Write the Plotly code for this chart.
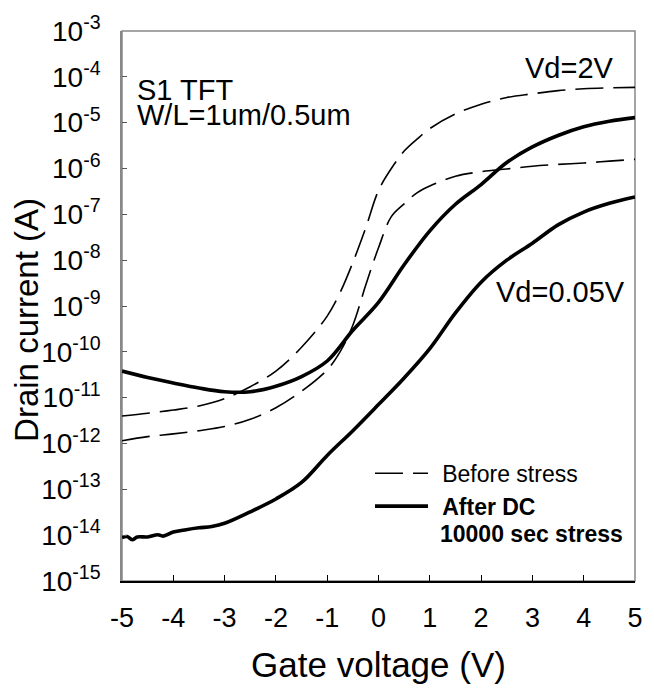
import plotly.graph_objects as go

# Gate voltage sweep (V)
vg = [-5, -4.5, -4, -3.5, -3, -2.5, -2, -1.5, -1, -0.75, -0.5, -0.25, 0,
      0.25, 0.5, 0.75, 1, 1.5, 2, 2.5, 3, 3.5, 4, 4.5, 5]

# log10 of drain current (A), before stress
before_vd2 = [-11.40, -11.34, -11.27, -11.18, -11.02, -10.76, -10.42, -9.90, -9.22,
              -8.71, -8.05, -7.30, -6.48, -6.00, -5.62, -5.36, -5.13, -4.81, -4.60,
              -4.45, -4.37, -4.30, -4.26, -4.24, -4.23]
before_vd005 = [-11.94, -11.85, -11.79, -11.72, -11.63, -11.47, -11.22, -10.86, -10.39,
                -10.00, -9.42, -8.55, -7.73, -7.05, -6.77, -6.53, -6.38, -6.17, -6.07,
                -6.01, -5.95, -5.91, -5.88, -5.84, -5.80]

# log10 of drain current (A), after DC stress
vg_after_vd2 = [-5, -4.5, -4, -3.5, -3, -2.5, -2, -1.5, -1, -0.5, 0,
                0.5, 1, 1.5, 2, 2.5, 3, 3.5, 4, 4.5, 5]
after_vd2 = [-10.42, -10.56, -10.68, -10.79, -10.87, -10.87, -10.75,
             -10.54, -10.20, -9.53, -8.92, -8.10, -7.36, -6.78, -6.35, -5.87, -5.53,
             -5.28, -5.09, -4.97, -4.89]
vg_after_vd005 = [-5, -4.9, -4.8, -4.7, -4.5, -4.3, -4.2, -4, -3.75, -3.5, -3.25, -3,
                  -2.5, -2, -1.5, -1, -0.5, 0, 0.5, 1, 1.5, 2, 2.5, 3, 3.5, 4, 4.5, 5]
after_vd005 = [-14.05, -14.03, -14.10, -14.04, -14.04, -13.99, -14.02, -13.93, -13.88,
               -13.84, -13.81, -13.74, -13.49, -13.21, -12.85, -12.26, -11.72, -11.15,
               -10.57, -9.93, -9.15, -8.48, -8.00, -7.63, -7.23, -6.95, -6.76, -6.62]

y_exp = list(range(-15, -2))
y_ticktext = ["10<sup>%d</sup>" % e for e in y_exp]
x_ticks = [-5, -4, -3, -2, -1, 0, 1, 2, 3, 4, 5]
x_ticktext = [str(v) for v in x_ticks]

FONT = "Liberation Sans, Arial, sans-serif"
dash_style = dict(color="black", width=1.6, dash="28px,10px")
solid_style = dict(color="black", width=3.6)

fig = go.Figure()
fig.add_trace(go.Scatter(x=vg, y=[10 ** v for v in before_vd2], mode="lines",
                         line=dash_style, line_shape="spline",
                         name="\u2009\u2009Before stress",
                         legendgroup="before", showlegend=True))
fig.add_trace(go.Scatter(x=vg, y=[10 ** v for v in before_vd005], mode="lines",
                         line=dash_style, line_shape="spline", name="Before stress",
                         legendgroup="before", showlegend=False))
fig.add_trace(go.Scatter(x=vg_after_vd2, y=[10 ** v for v in after_vd2], mode="lines",
                         line=solid_style, line_shape="spline",
                         name="\u2009\u2009<b>After DC</b>",
                         legendgroup="after", showlegend=True))
fig.add_trace(go.Scatter(x=vg_after_vd005, y=[10 ** v for v in after_vd005], mode="lines",
                         line=solid_style, line_shape="spline", name="After DC",
                         legendgroup="after", showlegend=False))

fig.update_layout(
    width=654, height=693,
    margin=dict(l=122, r=11, t=21, b=112),
    paper_bgcolor="white", plot_bgcolor="white",
    font=dict(family=FONT, color="black"),
    showlegend=True,
    legend=dict(x=0.4834, y=0.235, xanchor="left", yanchor="top",
                font=dict(size=23, family=FONT), itemwidth=53,
                bgcolor="rgba(0,0,0,0)", tracegroupgap=0),
    xaxis=dict(range=[-5, 5], tickvals=x_ticks, ticktext=x_ticktext,
               ticks="inside", ticklen=6, tickcolor="black",
               tickfont=dict(size=27), ticklabelstandoff=12,
               showline=True, linecolor="black", linewidth=1.5, showgrid=False,
               zeroline=False,
               title=dict(text="Gate voltage (V)", font=dict(size=35), standoff=20)),
    yaxis=dict(type="log", range=[-15, -3], tickvals=[10.0 ** e for e in y_exp],
               ticktext=y_ticktext, ticks="inside", ticklen=5, tickcolor="#555",
               tickfont=dict(size=28), ticklabelstandoff=14,
               showline=True, linecolor="#888", linewidth=1.5, showgrid=False,
               zeroline=False),
)

# frame on the top and right sides
fig.add_shape(type="rect", xref="paper", yref="paper", x0=0, y0=0, x1=1, y1=1,
              line=dict(color="#888", width=1.5), layer="below")

# vertical axis title
fig.add_annotation(x=-0.186, y=0.474, xref="paper", yref="paper",
                   text="Drain current (A)", textangle=-90, showarrow=False,
                   xanchor="center", yanchor="middle",
                   font=dict(size=33, family=FONT, color="black"))

ann_font = dict(size=29, family=FONT, color="black")
fig.add_annotation(x=-4.74, y=-4.28, text="S1 TFT", showarrow=False,
                   xanchor="left", yanchor="middle", font=ann_font)
fig.add_annotation(x=-4.74, y=-4.83, text="W/L=1um/0.5um", showarrow=False,
                   xanchor="left", yanchor="middle", font=ann_font)
fig.add_annotation(x=3.72, y=-3.80, text="Vd=2V", showarrow=False,
                   xanchor="center", yanchor="middle", font=ann_font)
fig.add_annotation(x=3.55, y=-8.70, text="Vd=0.05V", showarrow=False,
                   xanchor="center", yanchor="middle", font=ann_font)
fig.add_annotation(x=0.616, y=0.0857, xref="paper", yref="paper",
                   text="<b>10000 sec stress</b>", showarrow=False,
                   xanchor="left", yanchor="middle",
                   font=dict(size=23, family=FONT, color="black"))

fig.write_html("out.html")
